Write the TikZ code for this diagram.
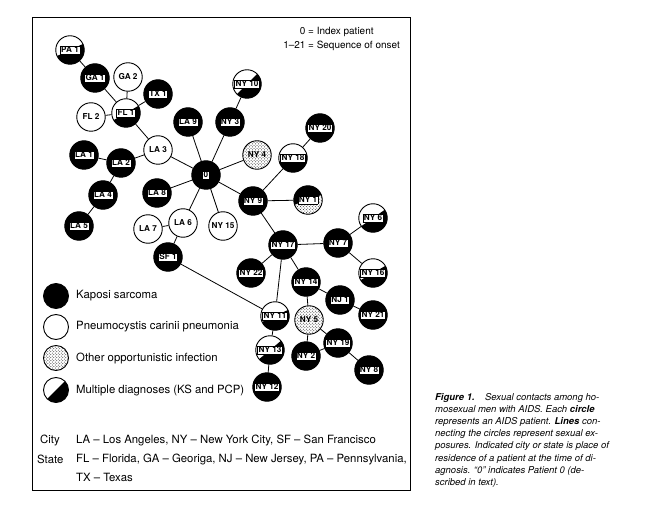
\documentclass[tikz,border=0pt]{standalone}
\usepackage{fontspec}
\setmainfont{TeX Gyre Heros}
\usetikzlibrary{patterns}
\newcommand\plbl[1]{{\setlength\fboxsep{0.8bp}\setlength\fboxrule{0.5bp}\fcolorbox{black}{white}{#1}}}
\newcommand\halfdisc[1]{(path picture bounding box.center) +(#1:20bp) -- +(#1-45:28.3bp) -- +(#1-90:20bp) -- +(#1-135:28.3bp) -- +(#1-180:20bp) -- cycle}
\tikzset{
  pt/.style={circle, draw=black, line width=0.9bp, minimum size=28.5bp, inner sep=0pt,
    font=\fontsize{8.2}{9}\selectfont\bfseries},
  ks/.style={pt, fill=black},
  pcp/.style={pt, fill=white},
  oi/.style={pt, preaction={fill=white}, pattern=crosshatch dots, pattern color=black!85},
  multi/.style={pt, fill=white, path picture={\fill[black] \halfdisc{#1};}},
  multi/.default=30,
  ksoi/.style={pt, fill=black, path picture={
     \fill[white] \halfdisc{#1};
     \fill[pattern=crosshatch dots, pattern color=black!85] \halfdisc{#1};}},
  ksoi/.default=20,
  legcirc/.style={minimum size=25bp},
  contact/.style={line width=0.8bp},
  legtext/.style={anchor=west, font=\fontsize{11.4}{13}\selectfont, inner sep=0pt},
}
\begin{document}
\begin{tikzpicture}[x=1bp, y=-1bp]
\useasboundingbox (0,0) rectangle (652,510);
\fill[white] (0,0) rectangle (652,510);
\draw[line width=0.8bp] (32,17) rectangle (410,490);

% key
\node[anchor=north east, inner sep=0pt, font=\fontsize{10}{14}\selectfont] (key) at (400,25)
  {\begin{tabular}{@{}r@{ = }l@{}}0 & Index patient\\1--21 & Sequence of onset\end{tabular}};

% patients
\node[multi=25] (PA1) at (70,50) {\plbl{PA 1}};
\node[ks] (GA1) at (95,78) {\plbl{GA 1}};
\node[pcp] (GA2) at (128,77) {GA 2};
\node[ks] (TX1) at (158,94) {\plbl{TX 1}};
\node[multi=30] (FL1) at (126,113) {\plbl{FL 1}};
\node[pcp] (FL2) at (91,117) {FL 2};
\node[multi=45] (NY10) at (247,84) {\plbl{NY 10}};
\node[ks] (LA9) at (188,122) {\plbl{LA 9}};
\node[ks] (NY3) at (230,122) {\plbl{NY 3}};
\node[pcp] (LA3) at (158,150) {LA 3};
\node[ks] (LA1) at (84,155) {\plbl{LA 1}};
\node[ks] (LA2) at (121,163) {\plbl{LA 2}};
\node[ks] (NY20) at (320,128) {\plbl{NY 20}};
\node[oi] (NY4) at (257,155) {NY 4};
\node[multi=15] (NY18) at (293,158) {\plbl{NY 18}};
\node[ks] (P0) at (206,175) {\plbl{0}};
\node[ks] (LA4) at (103,195) {\plbl{LA 4}};
\node[ks] (LA8) at (157,193) {\plbl{LA 8}};
\node[ks] (NY9) at (253,201) {\plbl{NY 9}};
\node[ksoi=20] (NY1) at (308,200) {\plbl{NY 1}};
\node[ks] (LA5) at (79,226) {\plbl{LA 5}};
\node[pcp] (LA7) at (148,229) {LA 7};
\node[pcp] (LA6) at (183,223) {LA 6};
\node[pcp] (NY15) at (223,226) {NY 15};
\node[multi=35] (NY6) at (373,218) {\plbl{NY 6}};
\node[ks] (NY17) at (283,245) {\plbl{NY 17}};
\node[ks] (NY7) at (338,243) {\plbl{NY 7}};
\node[ks] (SF1) at (168,257) {\plbl{SF 1}};
\node[ks] (NY22) at (251,273) {\plbl{NY 22}};
\node[multi=30] (NY16) at (373,273) {\plbl{NY 16}};
\node[ks] (NY14) at (306,282) {\plbl{NY 14}};
\node[ks] (NJ1) at (340,300) {\plbl{NJ 1}};
\node[ks] (NY21) at (373,315) {\plbl{NY 21}};
\node[multi=25] (NY11) at (275,316) {\plbl{NY 11}};
\node[oi] (NY5) at (309,320) {NY 5};
\node[ks] (NY19) at (338,343) {\plbl{NY 19}};
\node[multi=40] (NY13) at (270,350) {\plbl{NY 13}};
\node[ks] (NY2) at (306,356) {\plbl{NY 2}};
\node[ks] (NY8) at (369,370) {\plbl{NY 8}};
\node[ks] (NY12) at (267,387) {\plbl{NY 12}};

% contacts
\draw[contact] (PA1) -- (GA1);
\draw[contact] (GA1) -- (FL1);
\draw[contact] (GA2) -- (FL1);
\draw[contact] (TX1) -- (FL1);
\draw[contact] (FL2) -- (FL1);
\draw[contact] (FL1) -- (LA3);
\draw[contact] (LA3) -- (P0);
\draw[contact] (LA1) -- (LA2);
\draw[contact] (LA2) -- (LA3);
\draw[contact] (LA2) -- (LA4);
\draw[contact] (LA4) -- (LA5);
\draw[contact] (LA9) -- (P0);
\draw[contact] (NY3) -- (P0);
\draw[contact] (NY10) -- (NY3);
\draw[contact] (NY4) -- (P0);
\draw[contact] (LA8) -- (P0);
\draw[contact] (P0) -- (LA6);
\draw[contact] (P0) -- (NY15);
\draw[contact] (P0) -- (NY9);
\draw[contact] (LA7) -- (LA6);
\draw[contact] (LA6) -- (SF1);
\draw[contact] (SF1) -- (NY11);
\draw[contact] (NY9) -- (NY18);
\draw[contact] (NY18) -- (NY20);
\draw[contact] (NY9) -- (NY1);
\draw[contact] (NY9) -- (NY17);
\draw[contact] (NY17) -- (NY7);
\draw[contact] (NY7) -- (NY6);
\draw[contact] (NY7) -- (NY16);
\draw[contact] (NY17) -- (NY22);
\draw[contact] (NY17) -- (NY14);
\draw[contact] (NY17) -- (NY11);
\draw[contact] (NY14) -- (NJ1);
\draw[contact] (NY14) -- (NY5);
\draw[contact] (NJ1) -- (NY21);
\draw[contact] (NY5) -- (NY19);
\draw[contact] (NY5) -- (NY2);
\draw[contact] (NY19) -- (NY2);
\draw[contact] (NY19) -- (NY8);
\draw[contact] (NY11) -- (NY13);
\draw[contact] (NY13) -- (NY12);

% legend
\node[ks, legcirc] (lks) at (56,296) {};
\node[legtext] (tks) at (76,296) {Kaposi sarcoma};
\node[pcp, legcirc] (lpcp) at (56,327) {};
\node[legtext] (tpcp) at (76,327) {Pneumocystis carinii pneumonia};
\node[oi, legcirc] (loi) at (56,358) {};
\node[legtext] (toi) at (76,358) {Other opportunistic infection};
\node[multi=45, legcirc] (lmul) at (56,390) {};
\node[legtext] (tmul) at (76,390) {Multiple diagnoses (KS and PCP)};

\node[legtext] (city) at (40,440) {City};
\node[legtext] (cityt) at (76,440) {LA -- Los Angeles, NY -- New York City, SF -- San Francisco};
\node[legtext] (state) at (37,459) {State};
\node[legtext] (statet) at (76,459) {FL -- Florida, GA -- Georiga, NJ -- New Jersey, PA -- Pennsylvania,};
\node[legtext] (tx) at (76,477) {TX -- Texas};

% caption
\node[anchor=north west, align=left, inner sep=0pt, font=\fontsize{9.5}{12.2}\selectfont\itshape] (cap) at (435,393)
 {\textbf{Figure 1.}\hspace{1.1em}Sexual contacts among ho-\\
  mosexual men with AIDS. Each \textbf{circle}\\
  represents an AIDS patient. \textbf{Lines} con-\\
  necting the circles represent sexual ex-\\
  posures. Indicated city or state is place of\\
  residence of a patient at the time of di-\\
  agnosis. ``0'' indicates Patient 0 (de-\\
  scribed in text).};
\end{tikzpicture}
\end{document}
